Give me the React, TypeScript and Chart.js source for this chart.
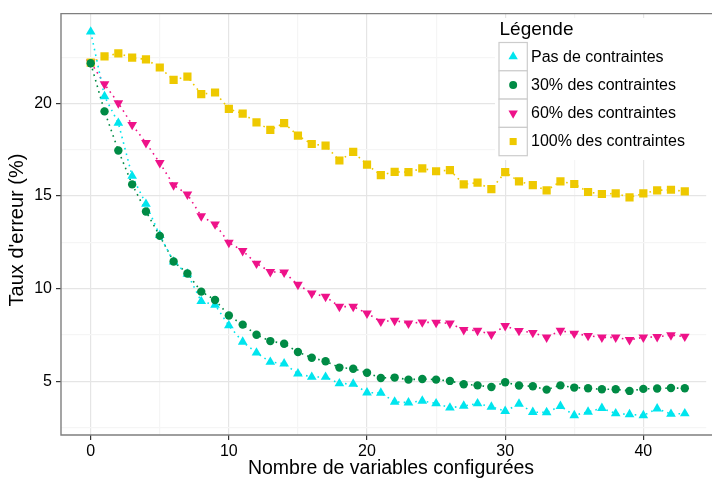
import React, { useEffect, useRef } from "react";
import { Chart, registerables } from "chart.js";

Chart.register(...registerables);

const xValues = [0, 1, 2, 3, 4, 5, 6, 7, 8, 9, 10, 11, 12, 13, 14, 15, 16, 17, 18, 19, 20, 21, 22, 23, 24, 25, 26, 27, 28, 29, 30, 31, 32, 33, 34, 35, 36, 37, 38, 39, 40, 41, 42, 43];

const pasDeContraintes = [23.87, 20.38, 18.94, 16.08, 14.57, 12.88, 11.45, 10.8, 9.32, 9.12, 8.01, 7.13, 6.54, 6.04, 5.95, 5.41, 5.23, 5.23, 4.88, 4.86, 4.39, 4.37, 3.89, 3.85, 3.94, 3.8, 3.57, 3.67, 3.8, 3.62, 3.39, 3.78, 3.33, 3.32, 3.66, 3.16, 3.35, 3.55, 3.26, 3.21, 3.16, 3.52, 3.23, 3.26];

const contraintes30 = [22.17, 19.57, 17.46, 15.63, 14.17, 12.85, 11.47, 10.82, 9.84, 9.39, 8.55, 8.06, 7.51, 7.17, 7.03, 6.58, 6.27, 6.08, 5.74, 5.68, 5.46, 5.18, 5.2, 5.09, 5.12, 5.09, 5.02, 4.84, 4.78, 4.69, 4.95, 4.77, 4.73, 4.55, 4.78, 4.66, 4.62, 4.57, 4.57, 4.48, 4.59, 4.61, 4.64, 4.62];

const contraintes60 = [22.22, 21.04, 20.02, 18.85, 17.87, 16.79, 15.59, 15.09, 13.92, 13.48, 12.49, 12.04, 11.36, 10.91, 10.88, 10.22, 9.75, 9.57, 9.03, 9.03, 8.67, 8.23, 8.28, 8.13, 8.19, 8.17, 8.13, 7.78, 7.74, 7.53, 7.99, 7.73, 7.62, 7.37, 7.74, 7.58, 7.46, 7.37, 7.37, 7.24, 7.37, 7.4, 7.49, 7.42];

const contraintes100 = [22.2, 22.54, 22.7, 22.47, 22.38, 21.94, 21.27, 21.45, 20.5, 20.59, 19.71, 19.45, 18.98, 18.57, 18.94, 18.26, 17.81, 17.72, 16.92, 17.38, 16.7, 16.13, 16.31, 16.29, 16.49, 16.34, 16.4, 15.63, 15.72, 15.37, 16.29, 15.79, 15.59, 15.31, 15.79, 15.65, 15.22, 15.11, 15.14, 14.93, 15.14, 15.31, 15.34, 15.25];

const seriesNames = ["Pas de contraintes", "30% des contraintes", "60% des contraintes", "100% des contraintes"];
const seriesColors = ["#00E5EE", "#008B45", "#EE1289", "#EEC900"];

const xTickValues = [0, 5, 10, 15, 20, 25, 30, 35, 40];
const xMajorTicks = [0, 10, 20, 30, 40];
const yTickValues = [2.5, 5, 7.5, 10, 12.5, 15, 17.5, 20, 22.5];
const yMajorTicks = [5, 10, 15, 20];

const legendTitle = "Légende";
const xTitle = "Nombre de variables configurées";
const yTitle = "Taux d'erreur (%)";

const FONT = "'Liberation Sans', Arial, Helvetica, sans-serif";

type Shape = { style: string; rotation: number; radius: number };
const shapes: Shape[] = [
  { style: "triangle", rotation: 0, radius: 5.6 },
  { style: "circle", rotation: 0, radius: 4.2 },
  { style: "triangle", rotation: 180, radius: 5.6 },
  { style: "rect", rotation: 0, radius: 5.8 },
];
const legendShapes: Shape[] = [
  { style: "triangle", rotation: 0, radius: 5.4 },
  { style: "circle", rotation: 0, radius: 4 },
  { style: "triangle", rotation: 180, radius: 5.4 },
  { style: "rect", rotation: 0, radius: 5 },
];

function drawShape(ctx: CanvasRenderingContext2D, s: Shape, x: number, y: number, color: string) {
  ctx.fillStyle = color;
  ctx.beginPath();
  if (s.style === "circle") {
    ctx.arc(x, y, s.radius, 0, Math.PI * 2);
  } else if (s.style === "rect") {
    const h = s.radius * Math.SQRT1_2;
    ctx.rect(x - h, y - h, 2 * h, 2 * h);
  } else {
    let rad = (s.rotation * Math.PI) / 180;
    for (let k = 0; k < 3; k++) {
      const px = x + Math.sin(rad) * s.radius;
      const py = y - Math.cos(rad) * s.radius;
      if (k === 0) ctx.moveTo(px, py);
      else ctx.lineTo(px, py);
      rad += (2 * Math.PI) / 3;
    }
    ctx.closePath();
  }
  ctx.fill();
}

const decorPlugin = {
  id: "decor",
  afterDatasetsDraw(chart: any) {
    const { ctx, chartArea: a } = chart;
    ctx.save();
    // panel border (right side falls outside the picture)
    ctx.strokeStyle = "#7F7F7F";
    ctx.lineWidth = 1.4;
    ctx.beginPath();
    ctx.moveTo(a.right + 10, a.top);
    ctx.lineTo(a.left, a.top);
    ctx.lineTo(a.left, a.bottom);
    ctx.lineTo(a.right + 10, a.bottom);
    ctx.stroke();

    // legend
    const lx = 495;
    const ly = 18;
    ctx.fillStyle = "#FFFFFF";
    ctx.fillRect(lx, ly, 230, 142);
    ctx.fillStyle = "#000000";
    ctx.font = `19px ${FONT}`;
    ctx.textBaseline = "middle";
    ctx.textAlign = "left";
    ctx.fillText(legendTitle, 499.5, 29.5);
    const keyX = 499;
    const keyY = 42.5;
    const keyS = 28.3;
    for (let i = 0; i < seriesNames.length; i++) {
      const top = keyY + i * keyS;
      ctx.fillStyle = "#FFFFFF";
      ctx.fillRect(keyX, top, keyS, keyS);
      ctx.strokeStyle = "#CCCCCC";
      ctx.lineWidth = 1.2;
      ctx.strokeRect(keyX, top, keyS, keyS);
      drawShape(ctx, legendShapes[i], keyX + keyS / 2, top + keyS / 2, seriesColors[i]);
      ctx.fillStyle = "#000000";
      ctx.font = `16px ${FONT}`;
      ctx.textBaseline = "middle";
      ctx.fillText(seriesNames[i], 531, top + keyS / 2 + 0.5);
    }

    // axis titles
    ctx.fillStyle = "#000000";
    ctx.font = `19.5px ${FONT}`;
    ctx.textAlign = "center";
    ctx.textBaseline = "middle";
    ctx.fillText(xTitle, 391, 469);
    ctx.font = `20px ${FONT}`;
    ctx.translate(17, 230);
    ctx.rotate(-Math.PI / 2);
    ctx.fillText(yTitle, 0, 0);
    ctx.restore();
  },
};

export default function App() {
  const ref = useRef<HTMLCanvasElement | null>(null);

  useEffect(() => {
    if (!ref.current) return;
    const series = [pasDeContraintes, contraintes30, contraintes60, contraintes100];
    const pointOrder = [3, 0, 2, 1];
    const lineSets = series.map((vals, i) => ({
      label: seriesNames[i] + " (ligne)",
      data: xValues.map((x, k) => ({ x, y: vals[k] })),
      borderColor: seriesColors[i],
      backgroundColor: seriesColors[i],
      borderWidth: 1.6,
      borderDash: [1.6, 4.2],
      borderCapStyle: "butt" as const,
      pointRadius: 0,
      tension: 0,
      fill: false,
      order: 10 + i,
    }));
    const pointSets = series.map((vals, i) => ({
      label: seriesNames[i],
      data: xValues.map((x, k) => ({ x, y: vals[k] })),
      showLine: false,
      borderColor: seriesColors[i],
      backgroundColor: seriesColors[i],
      pointStyle: shapes[i].style,
      pointRotation: shapes[i].rotation,
      pointRadius: shapes[i].radius,
      pointBorderWidth: 0,
      order: pointOrder[i],
    }));

    const chart = new Chart(ref.current, {
      type: "line",
      data: { datasets: [...lineSets, ...pointSets] as any },
      options: {
        animation: false,
        responsive: false,
        devicePixelRatio: 1,
        layout: { padding: { top: 12, left: 0, right: 0, bottom: 0 } },
        plugins: { legend: { display: false }, tooltip: { enabled: false } },
        font: { family: FONT },
        scales: {
          x: {
            type: "linear",
            min: -2.15,
            max: 44.55,
            afterBuildTicks: (scale: any) => {
              scale.ticks = xTickValues.map((v) => ({ value: v }));
            },
            afterFit: (scale: any) => {
              scale.height = 47;
            },
            border: { display: false },
            grid: {
              color: (c: any) => (xMajorTicks.includes(c.tick?.value) ? "#E5E5E5" : "#F5F5F5"),
              lineWidth: 1.2,
              tickLength: 5,
              tickColor: (c: any) => (xMajorTicks.includes(c.tick?.value) ? "#333333" : "rgba(0,0,0,0)"),
              tickWidth: 1.2,
            },
            ticks: {
              autoSkip: false,
              maxRotation: 0,
              padding: 2,
              color: "#000000",
              font: { size: 16, family: FONT },
              callback: (v: any) => (xMajorTicks.includes(Number(v)) ? String(v) : ""),
            },
          },
          y: {
            type: "linear",
            min: 2.1,
            max: 24.85,
            afterBuildTicks: (scale: any) => {
              scale.ticks = yTickValues.map((v) => ({ value: v }));
            },
            afterFit: (scale: any) => {
              scale.width = 61;
            },
            border: { display: false },
            grid: {
              color: (c: any) => (yMajorTicks.includes(c.tick?.value) ? "#E5E5E5" : "#F5F5F5"),
              lineWidth: 1.2,
              tickLength: 5,
              tickColor: (c: any) => (yMajorTicks.includes(c.tick?.value) ? "#333333" : "rgba(0,0,0,0)"),
              tickWidth: 1.2,
            },
            ticks: {
              autoSkip: false,
              padding: 4,
              color: "#000000",
              font: { size: 16, family: FONT },
              callback: (v: any) => (yMajorTicks.includes(Number(v)) ? String(v) : ""),
            },
          },
        },
      } as any,
      plugins: [decorPlugin],
    });
    return () => chart.destroy();
  }, []);

  return (
    <div style={{ position: "fixed", left: 0, top: 0, width: 712, height: 482, background: "#FFFFFF" }}>
      <canvas ref={ref} width={712} height={482} style={{ display: "block", width: 712, height: 482 }} />
    </div>
  );
}
